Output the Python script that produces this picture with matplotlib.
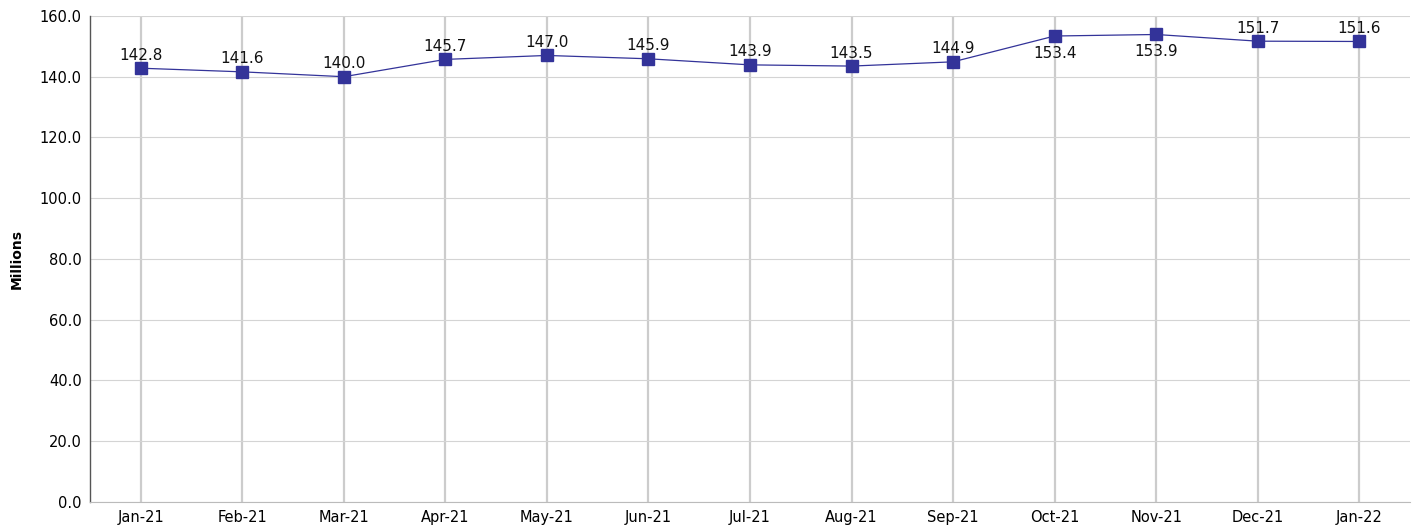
import matplotlib
matplotlib.use("Agg")
import matplotlib.pyplot as plt

# data
months = ["Jan-21", "Feb-21", "Mar-21", "Apr-21", "May-21", "Jun-21", "Jul-21",
          "Aug-21", "Sep-21", "Oct-21", "Nov-21", "Dec-21", "Jan-22"]
values = [142.8, 141.6, 140.0, 145.7, 147.0, 145.9, 143.9,
          143.5, 144.9, 153.4, 153.9, 151.7, 151.6]
below = ["Oct-21", "Nov-21"]  # labels drawn under the marker

fig = plt.figure(figsize=(14.19, 5.32), dpi=100)
ax = fig.add_axes([0.0634, 0.0564, 0.9303, 0.9136])

x = list(range(len(months)))
ax.plot(x, values, color="#333399", lw=0.9, marker="s", markersize=8,
        markerfacecolor="#333399", markeredgecolor="#333399", zorder=3)

for i, (m, v) in enumerate(zip(months, values)):
    if m in below:
        ax.annotate(f"{v:.1f}", (i, v), xytext=(0, -7), textcoords="offset points",
                    ha="center", va="top", fontsize=11, color="#111111")
    else:
        ax.annotate(f"{v:.1f}", (i, v), xytext=(0, 4), textcoords="offset points",
                    ha="center", va="bottom", fontsize=11, color="#111111")

ax.set_xlim(-0.5, len(months) - 0.5)
ax.set_ylim(0, 160)
ax.set_yticks(range(0, 161, 20))
ax.set_yticklabels([f"{t:.1f}" for t in range(0, 161, 20)], fontsize=10.5)
ax.set_xticks(x)
ax.set_xticklabels(months, fontsize=10.5)
ax.tick_params(length=0, pad=6)

ax.grid(axis="y", color="#d4d4d4", lw=0.8)
ax.grid(axis="x", color="#cccccc", lw=1.6)
ax.set_axisbelow(True)

for s in ["top", "right"]:
    ax.spines[s].set_visible(False)
ax.spines["left"].set_color("#555555")
ax.spines["left"].set_linewidth(1.0)
ax.spines["bottom"].set_color("#bbbbbb")
ax.spines["bottom"].set_linestyle((0, (2, 1)))
ax.spines["bottom"].set_linewidth(0.8)

ax.set_ylabel("Millions", fontsize=10, fontweight="bold")
ax.yaxis.set_label_coords(-0.050, 0.5)

fig.savefig("out.png", dpi=100)
